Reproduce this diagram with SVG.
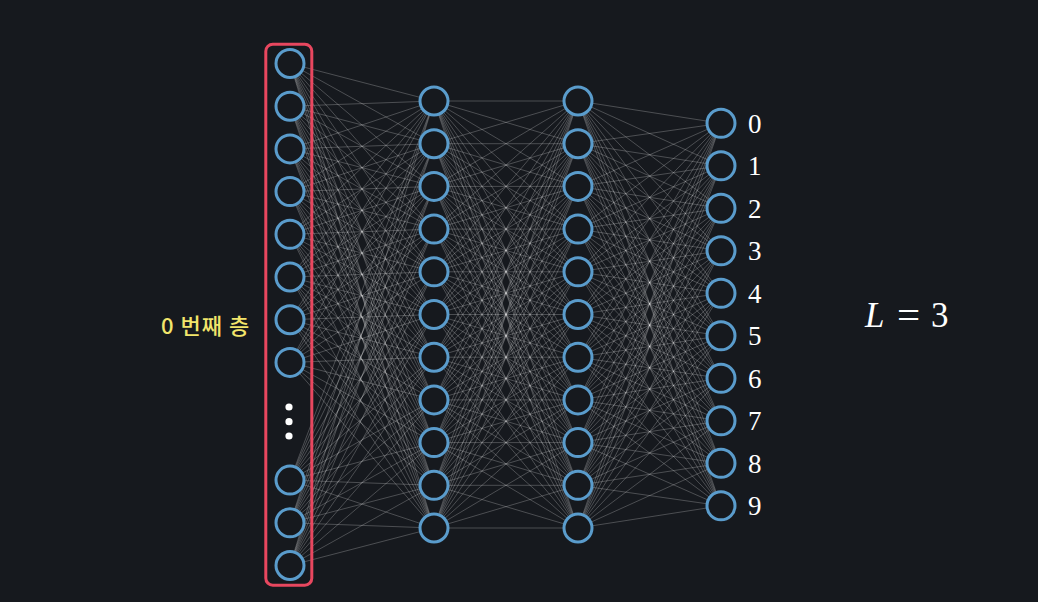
<svg xmlns="http://www.w3.org/2000/svg" width="1038" height="602" viewBox="0 0 1038 602">
<style>
.c path{stroke:#ffffff;stroke-opacity:0.26;stroke-width:0.9;fill:none}
.n circle{fill:#16191e;stroke:#5a9ccc;stroke-width:3}
.d{font-family:"Liberation Serif","Times New Roman",serif;font-size:27px;fill:#ffffff}
</style>
<rect x="0" y="0" width="1038" height="602" fill="#16191e"/>
<g id="connectors" class="c">
<path d="M290 63.5L434 101"/><path d="M290 63.5L434 143.7"/><path d="M290 63.5L434 186.4"/><path d="M290 63.5L434 229.1"/><path d="M290 63.5L434 271.8"/><path d="M290 63.5L434 314.5"/><path d="M290 63.5L434 357.2"/><path d="M290 63.5L434 399.9"/><path d="M290 63.5L434 442.6"/><path d="M290 63.5L434 485.3"/><path d="M290 63.5L434 528"/>
<path d="M290 106.2L434 101"/><path d="M290 106.2L434 143.7"/><path d="M290 106.2L434 186.4"/><path d="M290 106.2L434 229.1"/><path d="M290 106.2L434 271.8"/><path d="M290 106.2L434 314.5"/><path d="M290 106.2L434 357.2"/><path d="M290 106.2L434 399.9"/><path d="M290 106.2L434 442.6"/><path d="M290 106.2L434 485.3"/><path d="M290 106.2L434 528"/>
<path d="M290 148.9L434 101"/><path d="M290 148.9L434 143.7"/><path d="M290 148.9L434 186.4"/><path d="M290 148.9L434 229.1"/><path d="M290 148.9L434 271.8"/><path d="M290 148.9L434 314.5"/><path d="M290 148.9L434 357.2"/><path d="M290 148.9L434 399.9"/><path d="M290 148.9L434 442.6"/><path d="M290 148.9L434 485.3"/><path d="M290 148.9L434 528"/>
<path d="M290 191.6L434 101"/><path d="M290 191.6L434 143.7"/><path d="M290 191.6L434 186.4"/><path d="M290 191.6L434 229.1"/><path d="M290 191.6L434 271.8"/><path d="M290 191.6L434 314.5"/><path d="M290 191.6L434 357.2"/><path d="M290 191.6L434 399.9"/><path d="M290 191.6L434 442.6"/><path d="M290 191.6L434 485.3"/><path d="M290 191.6L434 528"/>
<path d="M290 234.3L434 101"/><path d="M290 234.3L434 143.7"/><path d="M290 234.3L434 186.4"/><path d="M290 234.3L434 229.1"/><path d="M290 234.3L434 271.8"/><path d="M290 234.3L434 314.5"/><path d="M290 234.3L434 357.2"/><path d="M290 234.3L434 399.9"/><path d="M290 234.3L434 442.6"/><path d="M290 234.3L434 485.3"/><path d="M290 234.3L434 528"/>
<path d="M290 277L434 101"/><path d="M290 277L434 143.7"/><path d="M290 277L434 186.4"/><path d="M290 277L434 229.1"/><path d="M290 277L434 271.8"/><path d="M290 277L434 314.5"/><path d="M290 277L434 357.2"/><path d="M290 277L434 399.9"/><path d="M290 277L434 442.6"/><path d="M290 277L434 485.3"/><path d="M290 277L434 528"/>
<path d="M290 319.7L434 101"/><path d="M290 319.7L434 143.7"/><path d="M290 319.7L434 186.4"/><path d="M290 319.7L434 229.1"/><path d="M290 319.7L434 271.8"/><path d="M290 319.7L434 314.5"/><path d="M290 319.7L434 357.2"/><path d="M290 319.7L434 399.9"/><path d="M290 319.7L434 442.6"/><path d="M290 319.7L434 485.3"/><path d="M290 319.7L434 528"/>
<path d="M290 362.4L434 101"/><path d="M290 362.4L434 143.7"/><path d="M290 362.4L434 186.4"/><path d="M290 362.4L434 229.1"/><path d="M290 362.4L434 271.8"/><path d="M290 362.4L434 314.5"/><path d="M290 362.4L434 357.2"/><path d="M290 362.4L434 399.9"/><path d="M290 362.4L434 442.6"/><path d="M290 362.4L434 485.3"/><path d="M290 362.4L434 528"/>
<path d="M290 480.1L434 101"/><path d="M290 480.1L434 143.7"/><path d="M290 480.1L434 186.4"/><path d="M290 480.1L434 229.1"/><path d="M290 480.1L434 271.8"/><path d="M290 480.1L434 314.5"/><path d="M290 480.1L434 357.2"/><path d="M290 480.1L434 399.9"/><path d="M290 480.1L434 442.6"/><path d="M290 480.1L434 485.3"/><path d="M290 480.1L434 528"/>
<path d="M290 522.8L434 101"/><path d="M290 522.8L434 143.7"/><path d="M290 522.8L434 186.4"/><path d="M290 522.8L434 229.1"/><path d="M290 522.8L434 271.8"/><path d="M290 522.8L434 314.5"/><path d="M290 522.8L434 357.2"/><path d="M290 522.8L434 399.9"/><path d="M290 522.8L434 442.6"/><path d="M290 522.8L434 485.3"/><path d="M290 522.8L434 528"/>
<path d="M290 565.5L434 101"/><path d="M290 565.5L434 143.7"/><path d="M290 565.5L434 186.4"/><path d="M290 565.5L434 229.1"/><path d="M290 565.5L434 271.8"/><path d="M290 565.5L434 314.5"/><path d="M290 565.5L434 357.2"/><path d="M290 565.5L434 399.9"/><path d="M290 565.5L434 442.6"/><path d="M290 565.5L434 485.3"/><path d="M290 565.5L434 528"/>

<path d="M434 101L578 101"/><path d="M434 101L578 143.7"/><path d="M434 101L578 186.4"/><path d="M434 101L578 229.1"/><path d="M434 101L578 271.8"/><path d="M434 101L578 314.5"/><path d="M434 101L578 357.2"/><path d="M434 101L578 399.9"/><path d="M434 101L578 442.6"/><path d="M434 101L578 485.3"/><path d="M434 101L578 528"/>
<path d="M434 143.7L578 101"/><path d="M434 143.7L578 143.7"/><path d="M434 143.7L578 186.4"/><path d="M434 143.7L578 229.1"/><path d="M434 143.7L578 271.8"/><path d="M434 143.7L578 314.5"/><path d="M434 143.7L578 357.2"/><path d="M434 143.7L578 399.9"/><path d="M434 143.7L578 442.6"/><path d="M434 143.7L578 485.3"/><path d="M434 143.7L578 528"/>
<path d="M434 186.4L578 101"/><path d="M434 186.4L578 143.7"/><path d="M434 186.4L578 186.4"/><path d="M434 186.4L578 229.1"/><path d="M434 186.4L578 271.8"/><path d="M434 186.4L578 314.5"/><path d="M434 186.4L578 357.2"/><path d="M434 186.4L578 399.9"/><path d="M434 186.4L578 442.6"/><path d="M434 186.4L578 485.3"/><path d="M434 186.4L578 528"/>
<path d="M434 229.1L578 101"/><path d="M434 229.1L578 143.7"/><path d="M434 229.1L578 186.4"/><path d="M434 229.1L578 229.1"/><path d="M434 229.1L578 271.8"/><path d="M434 229.1L578 314.5"/><path d="M434 229.1L578 357.2"/><path d="M434 229.1L578 399.9"/><path d="M434 229.1L578 442.6"/><path d="M434 229.1L578 485.3"/><path d="M434 229.1L578 528"/>
<path d="M434 271.8L578 101"/><path d="M434 271.8L578 143.7"/><path d="M434 271.8L578 186.4"/><path d="M434 271.8L578 229.1"/><path d="M434 271.8L578 271.8"/><path d="M434 271.8L578 314.5"/><path d="M434 271.8L578 357.2"/><path d="M434 271.8L578 399.9"/><path d="M434 271.8L578 442.6"/><path d="M434 271.8L578 485.3"/><path d="M434 271.8L578 528"/>
<path d="M434 314.5L578 101"/><path d="M434 314.5L578 143.7"/><path d="M434 314.5L578 186.4"/><path d="M434 314.5L578 229.1"/><path d="M434 314.5L578 271.8"/><path d="M434 314.5L578 314.5"/><path d="M434 314.5L578 357.2"/><path d="M434 314.5L578 399.9"/><path d="M434 314.5L578 442.6"/><path d="M434 314.5L578 485.3"/><path d="M434 314.5L578 528"/>
<path d="M434 357.2L578 101"/><path d="M434 357.2L578 143.7"/><path d="M434 357.2L578 186.4"/><path d="M434 357.2L578 229.1"/><path d="M434 357.2L578 271.8"/><path d="M434 357.2L578 314.5"/><path d="M434 357.2L578 357.2"/><path d="M434 357.2L578 399.9"/><path d="M434 357.2L578 442.6"/><path d="M434 357.2L578 485.3"/><path d="M434 357.2L578 528"/>
<path d="M434 399.9L578 101"/><path d="M434 399.9L578 143.7"/><path d="M434 399.9L578 186.4"/><path d="M434 399.9L578 229.1"/><path d="M434 399.9L578 271.8"/><path d="M434 399.9L578 314.5"/><path d="M434 399.9L578 357.2"/><path d="M434 399.9L578 399.9"/><path d="M434 399.9L578 442.6"/><path d="M434 399.9L578 485.3"/><path d="M434 399.9L578 528"/>
<path d="M434 442.6L578 101"/><path d="M434 442.6L578 143.7"/><path d="M434 442.6L578 186.4"/><path d="M434 442.6L578 229.1"/><path d="M434 442.6L578 271.8"/><path d="M434 442.6L578 314.5"/><path d="M434 442.6L578 357.2"/><path d="M434 442.6L578 399.9"/><path d="M434 442.6L578 442.6"/><path d="M434 442.6L578 485.3"/><path d="M434 442.6L578 528"/>
<path d="M434 485.3L578 101"/><path d="M434 485.3L578 143.7"/><path d="M434 485.3L578 186.4"/><path d="M434 485.3L578 229.1"/><path d="M434 485.3L578 271.8"/><path d="M434 485.3L578 314.5"/><path d="M434 485.3L578 357.2"/><path d="M434 485.3L578 399.9"/><path d="M434 485.3L578 442.6"/><path d="M434 485.3L578 485.3"/><path d="M434 485.3L578 528"/>
<path d="M434 528L578 101"/><path d="M434 528L578 143.7"/><path d="M434 528L578 186.4"/><path d="M434 528L578 229.1"/><path d="M434 528L578 271.8"/><path d="M434 528L578 314.5"/><path d="M434 528L578 357.2"/><path d="M434 528L578 399.9"/><path d="M434 528L578 442.6"/><path d="M434 528L578 485.3"/><path d="M434 528L578 528"/>

<path d="M578 101L721 123.3"/><path d="M578 101L721 165.8"/><path d="M578 101L721 208.3"/><path d="M578 101L721 250.8"/><path d="M578 101L721 293.3"/><path d="M578 101L721 335.8"/><path d="M578 101L721 378.3"/><path d="M578 101L721 420.8"/><path d="M578 101L721 463.3"/><path d="M578 101L721 505.8"/>
<path d="M578 143.7L721 123.3"/><path d="M578 143.7L721 165.8"/><path d="M578 143.7L721 208.3"/><path d="M578 143.7L721 250.8"/><path d="M578 143.7L721 293.3"/><path d="M578 143.7L721 335.8"/><path d="M578 143.7L721 378.3"/><path d="M578 143.7L721 420.8"/><path d="M578 143.7L721 463.3"/><path d="M578 143.7L721 505.8"/>
<path d="M578 186.4L721 123.3"/><path d="M578 186.4L721 165.8"/><path d="M578 186.4L721 208.3"/><path d="M578 186.4L721 250.8"/><path d="M578 186.4L721 293.3"/><path d="M578 186.4L721 335.8"/><path d="M578 186.4L721 378.3"/><path d="M578 186.4L721 420.8"/><path d="M578 186.4L721 463.3"/><path d="M578 186.4L721 505.8"/>
<path d="M578 229.1L721 123.3"/><path d="M578 229.1L721 165.8"/><path d="M578 229.1L721 208.3"/><path d="M578 229.1L721 250.8"/><path d="M578 229.1L721 293.3"/><path d="M578 229.1L721 335.8"/><path d="M578 229.1L721 378.3"/><path d="M578 229.1L721 420.8"/><path d="M578 229.1L721 463.3"/><path d="M578 229.1L721 505.8"/>
<path d="M578 271.8L721 123.3"/><path d="M578 271.8L721 165.8"/><path d="M578 271.8L721 208.3"/><path d="M578 271.8L721 250.8"/><path d="M578 271.8L721 293.3"/><path d="M578 271.8L721 335.8"/><path d="M578 271.8L721 378.3"/><path d="M578 271.8L721 420.8"/><path d="M578 271.8L721 463.3"/><path d="M578 271.8L721 505.8"/>
<path d="M578 314.5L721 123.3"/><path d="M578 314.5L721 165.8"/><path d="M578 314.5L721 208.3"/><path d="M578 314.5L721 250.8"/><path d="M578 314.5L721 293.3"/><path d="M578 314.5L721 335.8"/><path d="M578 314.5L721 378.3"/><path d="M578 314.5L721 420.8"/><path d="M578 314.5L721 463.3"/><path d="M578 314.5L721 505.8"/>
<path d="M578 357.2L721 123.3"/><path d="M578 357.2L721 165.8"/><path d="M578 357.2L721 208.3"/><path d="M578 357.2L721 250.8"/><path d="M578 357.2L721 293.3"/><path d="M578 357.2L721 335.8"/><path d="M578 357.2L721 378.3"/><path d="M578 357.2L721 420.8"/><path d="M578 357.2L721 463.3"/><path d="M578 357.2L721 505.8"/>
<path d="M578 399.9L721 123.3"/><path d="M578 399.9L721 165.8"/><path d="M578 399.9L721 208.3"/><path d="M578 399.9L721 250.8"/><path d="M578 399.9L721 293.3"/><path d="M578 399.9L721 335.8"/><path d="M578 399.9L721 378.3"/><path d="M578 399.9L721 420.8"/><path d="M578 399.9L721 463.3"/><path d="M578 399.9L721 505.8"/>
<path d="M578 442.6L721 123.3"/><path d="M578 442.6L721 165.8"/><path d="M578 442.6L721 208.3"/><path d="M578 442.6L721 250.8"/><path d="M578 442.6L721 293.3"/><path d="M578 442.6L721 335.8"/><path d="M578 442.6L721 378.3"/><path d="M578 442.6L721 420.8"/><path d="M578 442.6L721 463.3"/><path d="M578 442.6L721 505.8"/>
<path d="M578 485.3L721 123.3"/><path d="M578 485.3L721 165.8"/><path d="M578 485.3L721 208.3"/><path d="M578 485.3L721 250.8"/><path d="M578 485.3L721 293.3"/><path d="M578 485.3L721 335.8"/><path d="M578 485.3L721 378.3"/><path d="M578 485.3L721 420.8"/><path d="M578 485.3L721 463.3"/><path d="M578 485.3L721 505.8"/>
<path d="M578 528L721 123.3"/><path d="M578 528L721 165.8"/><path d="M578 528L721 208.3"/><path d="M578 528L721 250.8"/><path d="M578 528L721 293.3"/><path d="M578 528L721 335.8"/><path d="M578 528L721 378.3"/><path d="M578 528L721 420.8"/><path d="M578 528L721 463.3"/><path d="M578 528L721 505.8"/>
</g>

<g id="input-layer-box">
<rect x="265.8" y="44.2" width="46" height="541" rx="7" fill="none" stroke="#e8475f" stroke-width="3"/>
</g>

<g id="input-layer" class="n">
<g id="in-1"><circle cx="290" cy="63.5" r="14"/></g>
<g id="in-2"><circle cx="290" cy="106.2" r="14"/></g>
<g id="in-3"><circle cx="290" cy="148.9" r="14"/></g>
<g id="in-4"><circle cx="290" cy="191.6" r="14"/></g>
<g id="in-5"><circle cx="290" cy="234.3" r="14"/></g>
<g id="in-6"><circle cx="290" cy="277" r="14"/></g>
<g id="in-7"><circle cx="290" cy="319.7" r="14"/></g>
<g id="in-8"><circle cx="290" cy="362.4" r="14"/></g>
<g id="in-ellipsis"><circle cx="289" cy="407" r="3.6" style="fill:#fff;stroke:none"/><circle cx="289" cy="421.7" r="3.6" style="fill:#fff;stroke:none"/><circle cx="289" cy="436" r="3.6" style="fill:#fff;stroke:none"/></g>
<g id="in-9"><circle cx="290" cy="480.1" r="14"/></g>
<g id="in-10"><circle cx="290" cy="522.8" r="14"/></g>
<g id="in-11"><circle cx="290" cy="565.5" r="14"/></g>
</g>

<g id="hidden-layer-1" class="n">
<g id="h1-1"><circle cx="434" cy="101" r="14"/></g>
<g id="h1-2"><circle cx="434" cy="143.7" r="14"/></g>
<g id="h1-3"><circle cx="434" cy="186.4" r="14"/></g>
<g id="h1-4"><circle cx="434" cy="229.1" r="14"/></g>
<g id="h1-5"><circle cx="434" cy="271.8" r="14"/></g>
<g id="h1-6"><circle cx="434" cy="314.5" r="14"/></g>
<g id="h1-7"><circle cx="434" cy="357.2" r="14"/></g>
<g id="h1-8"><circle cx="434" cy="399.9" r="14"/></g>
<g id="h1-9"><circle cx="434" cy="442.6" r="14"/></g>
<g id="h1-10"><circle cx="434" cy="485.3" r="14"/></g>
<g id="h1-11"><circle cx="434" cy="528" r="14"/></g>
</g>

<g id="hidden-layer-2" class="n">
<g id="h2-1"><circle cx="578" cy="101" r="14"/></g>
<g id="h2-2"><circle cx="578" cy="143.7" r="14"/></g>
<g id="h2-3"><circle cx="578" cy="186.4" r="14"/></g>
<g id="h2-4"><circle cx="578" cy="229.1" r="14"/></g>
<g id="h2-5"><circle cx="578" cy="271.8" r="14"/></g>
<g id="h2-6"><circle cx="578" cy="314.5" r="14"/></g>
<g id="h2-7"><circle cx="578" cy="357.2" r="14"/></g>
<g id="h2-8"><circle cx="578" cy="399.9" r="14"/></g>
<g id="h2-9"><circle cx="578" cy="442.6" r="14"/></g>
<g id="h2-10"><circle cx="578" cy="485.3" r="14"/></g>
<g id="h2-11"><circle cx="578" cy="528" r="14"/></g>
</g>

<g id="output-layer" class="n">
<g id="out-0"><circle cx="721" cy="123.3" r="14"/><text class="d" x="748" y="132.8">0</text></g>
<g id="out-1"><circle cx="721" cy="165.8" r="14"/><text class="d" x="748" y="175.3">1</text></g>
<g id="out-2"><circle cx="721" cy="208.3" r="14"/><text class="d" x="748" y="217.8">2</text></g>
<g id="out-3"><circle cx="721" cy="250.8" r="14"/><text class="d" x="748" y="260.3">3</text></g>
<g id="out-4"><circle cx="721" cy="293.3" r="14"/><text class="d" x="748" y="302.8">4</text></g>
<g id="out-5"><circle cx="721" cy="335.8" r="14"/><text class="d" x="748" y="345.3">5</text></g>
<g id="out-6"><circle cx="721" cy="378.3" r="14"/><text class="d" x="748" y="387.8">6</text></g>
<g id="out-7"><circle cx="721" cy="420.8" r="14"/><text class="d" x="748" y="430.3">7</text></g>
<g id="out-8"><circle cx="721" cy="463.3" r="14"/><text class="d" x="748" y="472.8">8</text></g>
<g id="out-9"><circle cx="721" cy="505.8" r="14"/><text class="d" x="748" y="515.3">9</text></g>
</g>

<g id="layer-label">
<text x="161" y="334" font-family="'Noto Sans CJK KR','Noto Sans',sans-serif" font-size="22" font-weight="500" letter-spacing="1" fill="#f2e56b">0 번째 층</text>
</g>

<g id="depth-label">
<text y="327" font-family="'Liberation Serif','Times New Roman',serif" font-size="35" fill="#ffffff"><tspan x="865" font-style="italic">L</tspan><tspan x="897" font-size="41" dy="2">=</tspan><tspan x="931" dy="-2">3</tspan></text>
</g>
</svg>
